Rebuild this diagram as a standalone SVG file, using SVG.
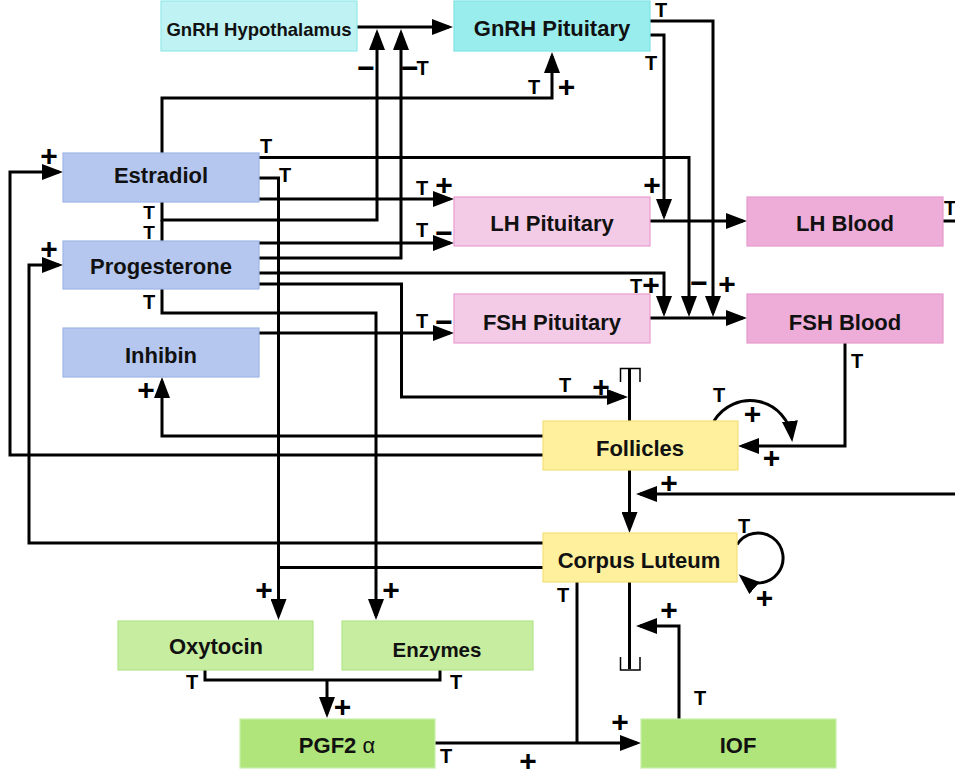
<svg xmlns="http://www.w3.org/2000/svg" width="955" height="773" viewBox="0 0 955 773">
<defs>
<style>
.box{stroke-width:1.2}
.hyp{fill:#bff3f3;stroke:#94e8e8}
.gp{fill:#99eded;stroke:#7ee3e3}
.blue{fill:#b5c7ef;stroke:#9fb5e6}
.pl{fill:#f3cbe6;stroke:#e99bcf}
.pd{fill:#edadd8;stroke:#e59acb}
.yel{fill:#fef09c;stroke:#f5e07a}
.gl{fill:#c7eda0;stroke:#b2e68a}
.gd{fill:#b0e57b;stroke:#c9efa8}
.nt{font-family:"Liberation Sans",Arial,sans-serif;font-weight:bold;font-size:22px;fill:#111;text-anchor:middle}
.c{fill:none;stroke:#000;stroke-width:3}
.a{marker-end:url(#ah)}
.thin{fill:none;stroke:#000;stroke-width:1.5}
.t{font-family:"Liberation Sans",Arial,sans-serif;font-weight:bold;font-size:20px;fill:#000;text-anchor:middle}
.s{font-family:"Liberation Sans",Arial,sans-serif;font-weight:bold;font-size:30px;fill:#000;text-anchor:middle}
</style>
<marker id="ah" markerUnits="userSpaceOnUse" viewBox="0 0 21 16" markerWidth="21" markerHeight="16" refX="17" refY="8" orient="auto"><path d="M0,0 L21,8 L0,16 z" fill="#000"/></marker>
</defs>
<rect width="955" height="773" fill="#fff"/>

<g id="connectors">
<path class="c a" d="M357,27 H449"/>
<path class="c a" d="M162,202 V220 H377 V33"/>
<path class="c" d="M162,241 V220"/>
<path class="c a" d="M259,258 H401 V33"/>
<path class="c a" d="M162,153 V98 H552 V56"/>
<path class="c a" d="M650,21 H713 V313"/>
<path class="c a" d="M650,35 H664 V216"/>
<path class="c a" d="M259,157.5 H689 V313"/>
<path class="c a" d="M259,178 H278.5 V616"/>
<path class="c a" d="M259,199 H450"/>
<path class="c a" d="M259,243 H450"/>
<path class="c a" d="M259,273 H664 V313"/>
<path class="c a" d="M259,284 H401.5 V397 H624"/>
<path class="c a" d="M162,289 V313 H376 V616"/>
<path class="c a" d="M259,333 H450"/>
<path class="c a" d="M650,221 H743"/>
<path class="c a" d="M650,318 H743"/>
<path class="c" d="M943,221 H955"/>
<path class="c a" d="M845,343 V446 H742"/>
<path class="c a" d="M543,436 H162 V381"/>
<path class="c a" d="M543,455 H10 V172 H59"/>
<path class="c a" d="M543,543 H29 V265 H59"/>
<path class="c" d="M543,567.5 H278.5"/>
<path class="c" d="M629.5,369 V421"/>
<path class="c a" d="M629.5,470 V529"/>
<path class="c a" d="M955,494 H640"/>
<path class="c" d="M629.5,582 V669"/>
<path class="c" d="M577,582 V743"/>
<path class="c a" d="M679,719 V626 H640"/>
<path class="c a" d="M435,743 H637"/>
<path class="c" d="M205,670 V680 H440 V670"/>
<path class="c a" d="M327,680 V714"/>
<path class="c a" d="M714,421 A42,42 0 0 1 791.8,438"/>
<path class="c a" d="M737,544.5 A25,25 0 1 1 741.7,576.9"/>
<path class="thin" d="M620.5,382 V368.5 H640 V382"/>
<path class="thin" d="M620.5,657 V670 H640 V657"/>
</g>

<g id="labels">
<text class="t" x="661" y="17">T</text>
<text class="t" x="651" y="70">T</text>
<text class="t" x="534" y="94">T</text>
<text class="s" x="401" y="78" style="text-anchor:start">−<tspan dx="-2" dy="-3" style="font-size:20px">T</tspan></text>
<text class="t" x="266" y="153">T</text>
<text class="t" x="285" y="182">T</text>
<text class="t" x="422" y="195">T</text>
<text class="t" x="149" y="219" style="font-size:19px">T</text>
<text class="t" x="149" y="239" style="font-size:19px">T</text>
<text class="t" x="422" y="237">T</text>
<text class="t" x="636" y="293">T</text>
<text class="t" x="149" y="309">T</text>
<text class="t" x="422" y="328">T</text>
<text class="t" x="565" y="392">T</text>
<text class="t" x="719" y="402">T</text>
<text class="t" x="857" y="368">T</text>
<text class="t" x="744" y="533">T</text>
<text class="t" x="563" y="602">T</text>
<text class="t" x="700" y="705">T</text>
<text class="t" x="192" y="689">T</text>
<text class="t" x="456" y="689">T</text>
<text class="t" x="446" y="763">T</text>
<text class="t" x="950" y="215">T</text>

<text class="s" x="566.5" y="96.5">+</text>
<text class="s" x="49" y="166">+</text>
<text class="s" x="444" y="195">+</text>
<text class="s" x="652" y="195">+</text>
<text class="s" x="49" y="259">+</text>
<text class="s" x="651" y="295">+</text>
<text class="s" x="727" y="293.5">+</text>
<text class="s" x="601" y="397">+</text>
<text class="s" x="146" y="400">+</text>
<text class="s" x="752.5" y="424">+</text>
<text class="s" x="771.5" y="468">+</text>
<text class="s" x="669" y="493">+</text>
<text class="s" x="264" y="600">+</text>
<text class="s" x="391" y="600">+</text>
<text class="s" x="764.5" y="608">+</text>
<text class="s" x="669" y="620">+</text>
<text class="s" x="620" y="732">+</text>
<text class="s" x="342.5" y="717">+</text>
<text class="s" x="528" y="771">+</text>

<text class="s" x="366" y="78">−</text>
<text class="s" x="444" y="243">−</text>
<text class="s" x="444" y="332">−</text>
<text class="s" x="699" y="293">−</text>
</g>

<g id="gnrh-hypothalamus"><rect class="box hyp" x="161" y="1" width="196" height="50"/><text class="nt" x="259" y="36" style="font-size:18.5px">GnRH Hypothalamus</text></g>
<g id="gnrh-pituitary"><rect class="box gp" x="454" y="1" width="196" height="50"/><text class="nt" x="552" y="36">GnRH Pituitary</text></g>
<g id="estradiol"><rect class="box blue" x="63" y="153" width="196" height="49"/><text class="nt" x="161" y="183">Estradiol</text></g>
<g id="progesterone"><rect class="box blue" x="63" y="241" width="196" height="48"/><text class="nt" x="161" y="274">Progesterone</text></g>
<g id="inhibin"><rect class="box blue" x="63" y="328" width="196" height="49"/><text class="nt" x="161" y="363">Inhibin</text></g>
<g id="lh-pituitary"><rect class="box pl" x="454" y="197" width="196" height="49"/><text class="nt" x="552" y="231">LH Pituitary</text></g>
<g id="fsh-pituitary"><rect class="box pl" x="454" y="294" width="196" height="49"/><text class="nt" x="552" y="330">FSH Pituitary</text></g>
<g id="lh-blood"><rect class="box pd" x="747" y="197" width="196" height="49"/><text class="nt" x="845" y="231">LH Blood</text></g>
<g id="fsh-blood"><rect class="box pd" x="747" y="294" width="196" height="49"/><text class="nt" x="845" y="330">FSH Blood</text></g>
<g id="follicles"><rect class="box yel" x="543" y="421" width="195" height="49"/><text class="nt" x="640" y="456">Follicles</text></g>
<g id="corpus-luteum"><rect class="box yel" x="543" y="533" width="194" height="49"/><text class="nt" x="639" y="568">Corpus Luteum</text></g>
<g id="oxytocin"><rect class="box gl" x="118" y="621" width="195" height="49"/><text class="nt" x="216" y="654">Oxytocin</text></g>
<g id="enzymes"><rect class="box gl" x="342" y="621" width="191" height="49"/><text class="nt" x="437" y="657" style="font-size:20.5px">Enzymes</text></g>
<g id="pgf2a"><rect class="box gd" x="240" y="719" width="195" height="49"/><text class="nt" x="337" y="753">PGF2 <tspan style="font-weight:normal">α</tspan></text></g>
<g id="iof"><rect class="box gd" x="641" y="719" width="195" height="49"/><text class="nt" x="738" y="753">IOF</text></g>
</svg>
